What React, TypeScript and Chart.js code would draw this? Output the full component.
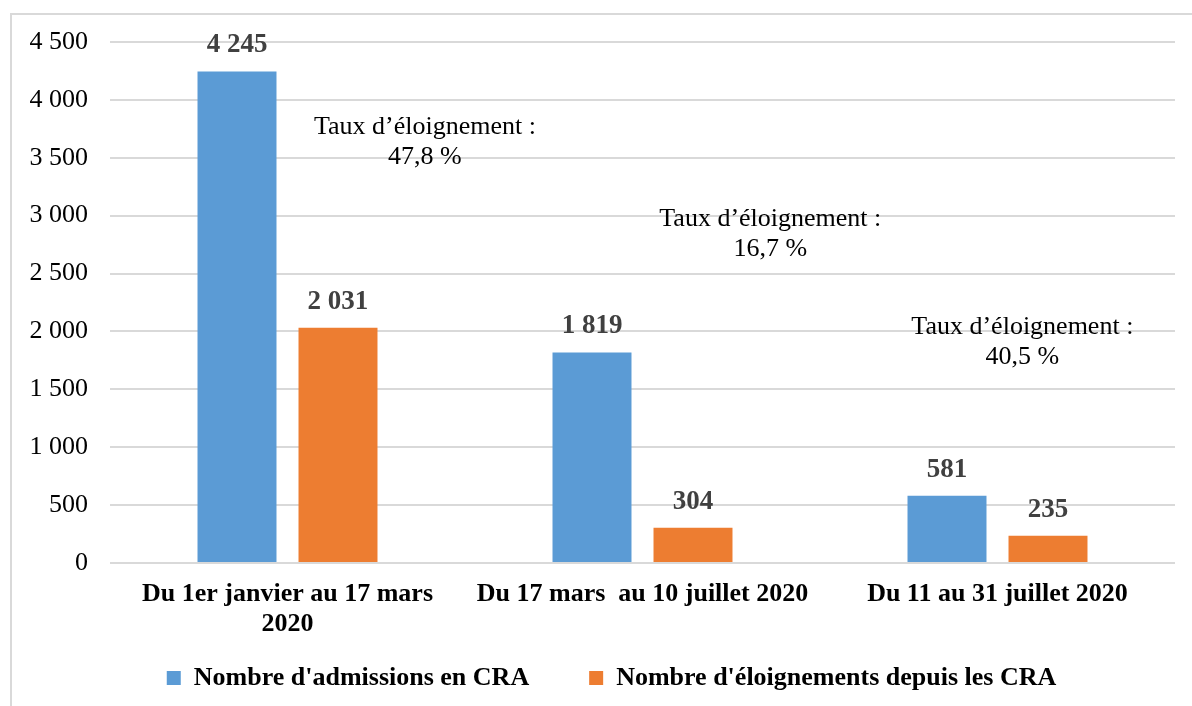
import React, { useEffect, useRef } from "react";
import { Chart, registerables } from "chart.js";

Chart.register(...registerables);

const categories: string[][] = [
  ["Du 1er janvier au 17 mars", "2020"],
  ["Du 17 mars  au 10 juillet 2020"],
  ["Du 11 au 31 juillet 2020"],
];
const admissions: number[] = [4245, 1819, 581];
const eloignements: number[] = [2031, 304, 235];
const admissionsLabels: string[] = ["4 245", "1 819", "581"];
const eloignementsLabels: string[] = ["2 031", "304", "235"];
const rateTitles: string[] = ["Taux d’éloignement :", "Taux d’éloignement :", "Taux d’éloignement :"];
const rateValues: string[] = ["47,8 %", "16,7 %", "40,5 %"];
const yTickLabels: string[] = ["0", "500", "1 000", "1 500", "2 000", "2 500", "3 000", "3 500", "4 000", "4 500"];
const seriesNames: string[] = ["Nombre d'admissions en CRA", "Nombre d'éloignements depuis les CRA"];

const FONT = "'Liberation Serif', 'Times New Roman', serif";

// annotation anchors: offset (in category units) and y value
const rateAnchors = [
  { dx: 0.387, y: 3636 },
  { dx: 0.36, y: 2840 },
  { dx: 0.07, y: 1909 },
];

const frame = {
  id: "frame",
  beforeDraw(chart: any) {
    const ctx = chart.ctx;
    ctx.save();
    ctx.fillStyle = "#ffffff";
    ctx.fillRect(0, 0, chart.width, chart.height);
    ctx.strokeStyle = "#d9d9d9";
    ctx.lineWidth = 2;
    ctx.strokeRect(11, 14, 1400, 900);
    ctx.restore();
  },
};

const legendPlacer = {
  id: "legendPlacer",
  afterLayout(chart: any) {
    const lg = chart.legend;
    if (!lg) return;
    const h = lg.bottom - lg.top;
    lg.top = 605;
    lg.bottom = lg.top + h;
    lg.left += 18;
    lg.right += 18;
  },
};

const labelsPlugin = {
  id: "barLabels",
  afterDatasetsDraw(chart: any) {
    const ctx = chart.ctx;
    const allLabels = [admissionsLabels, eloignementsLabels];
    ctx.save();
    ctx.font = `bold 27px ${FONT}`;
    ctx.fillStyle = "#404040";
    ctx.textAlign = "center";
    ctx.textBaseline = "middle";
    chart.data.datasets.forEach((_: any, di: number) => {
      const meta = chart.getDatasetMeta(di);
      meta.data.forEach((bar: any, i: number) => {
        ctx.fillText(allLabels[di][i], bar.x, bar.y - 26);
      });
    });
    const xs = chart.scales.x;
    const ys = chart.scales.y;
    ctx.font = `26px ${FONT}`;
    ctx.fillStyle = "#000000";
    rateTitles.forEach((t, i) => {
      const cx = xs.getPixelForValue(i) + rateAnchors[i].dx * (xs.getPixelForValue(1) - xs.getPixelForValue(0));
      const cy = ys.getPixelForValue(rateAnchors[i].y);
      ctx.fillText(t, cx, cy - 15);
      ctx.fillText(rateValues[i], cx, cy + 15);
    });
    ctx.restore();
  },
};

export default function App() {
  const ref = useRef<HTMLCanvasElement | null>(null);
  useEffect(() => {
    if (!ref.current) return;
    const chart = new Chart(ref.current, {
      type: "bar",
      data: {
        labels: categories,
        datasets: [
          {
            label: seriesNames[0],
            data: admissions,
            backgroundColor: "#5B9BD5",
            categoryPercentage: 0.569,
            barPercentage: 0.782,
          },
          {
            label: seriesNames[1],
            data: eloignements,
            backgroundColor: "#ED7D31",
            categoryPercentage: 0.569,
            barPercentage: 0.782,
          },
        ],
      },
      options: {
        responsive: false,
        animation: false,
        layout: { padding: { left: 12, right: 17, top: 42, bottom: -33 } },
        plugins: {
          tooltip: { enabled: false },
          legend: {
            position: "bottom",
            labels: {
              boxWidth: 14,
              boxHeight: 14,
              padding: 60,
              color: "#000",
              font: { family: FONT, size: 26, weight: "bold" },
            },
          },
        },
        scales: {
          x: {
            grid: { display: false, drawTicks: false },
            border: { display: false },
            ticks: {
              color: "#000",
              font: { family: FONT, size: 26, weight: "bold", lineHeight: 1.15 },
              padding: 16,
              autoSkip: false,
              maxRotation: 0,
              minRotation: 0,
            },
            afterFit(scale: any) {
              scale.height = 80;
            },
          },
          y: {
            min: 0,
            max: 4500,
            grid: { color: "#d9d9d9", lineWidth: 2, drawTicks: false },
            border: { display: false },
            ticks: {
              stepSize: 500,
              padding: 22,
              color: "#000",
              font: { family: FONT, size: 26 },
              callback: (_v: any, i: number) => yTickLabels[i],
            },
            afterFit(scale: any) {
              scale.width = 98;
            },
          },
        },
      },
      plugins: [frame, legendPlacer, labelsPlugin],
    });
    return () => chart.destroy();
  }, []);
  return (
    <div style={{ position: "absolute", left: 0, top: 0, width: 1192, height: 706 }}>
      <canvas ref={ref} width={1192} height={706} style={{ display: "block" }} />
    </div>
  );
}
